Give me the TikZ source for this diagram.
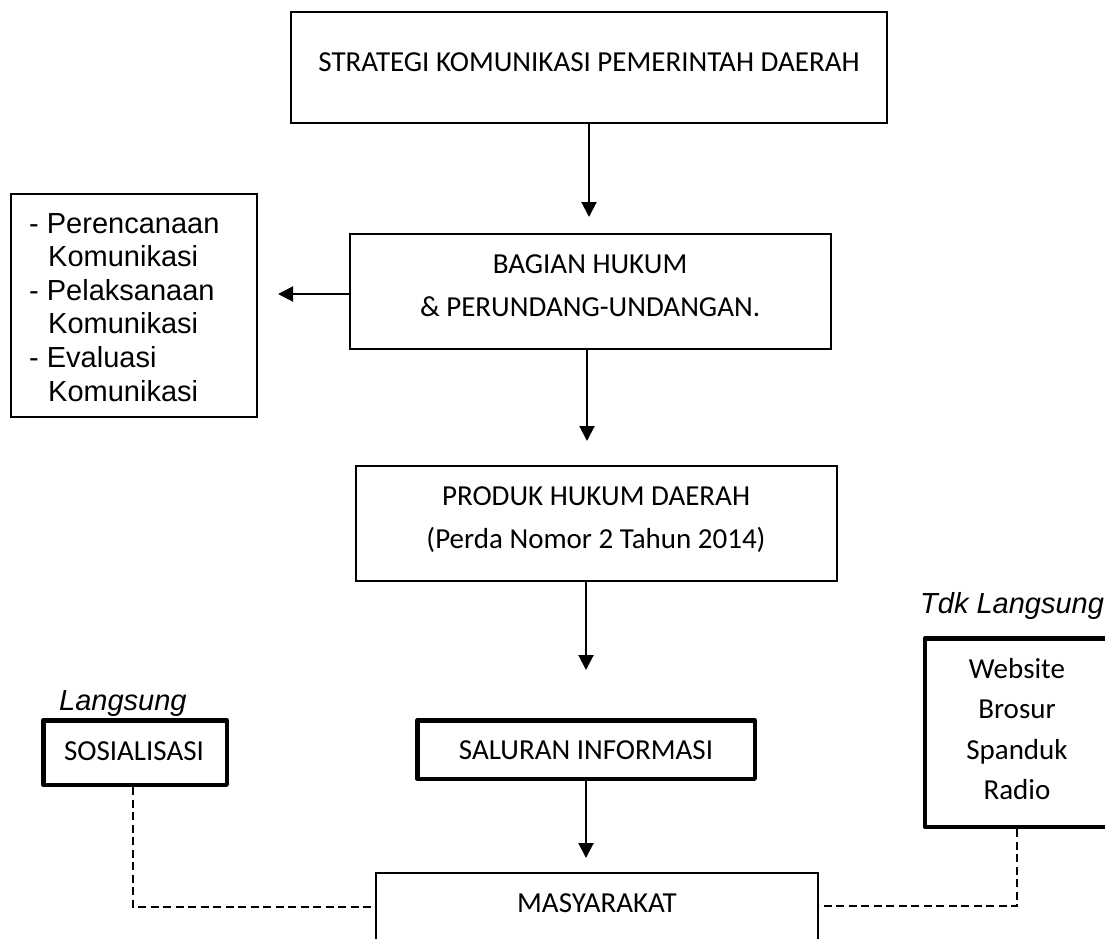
\documentclass[tikz,border=0pt]{standalone}
\usepackage{fontspec}
\newfontfamily\calib{Carlito}
\newfontfamily\arialf{Liberation Sans}
\usetikzlibrary{arrows.meta}
\tikzset{
  boxthin/.style={draw, line width=2pt, rectangle, inner sep=0pt},
  boxthick/.style={draw, line width=4.5pt, line join=round, rectangle, inner sep=0pt},
  ctext/.style={font=\calib\fontsize{29}{35}\selectfont, inner sep=0pt, anchor=base},
  atext/.style={font=\arialf\fontsize{29}{34}\selectfont, inner sep=0pt, anchor=base west},
  itext/.style={font=\arialf\itshape\fontsize{29}{34}\selectfont, inner sep=0pt, anchor=base west},
  arr/.style={-{Triangle[length=15pt,width=15pt]}, line width=2pt},
  dashline/.style={line width=1.5pt, dash pattern=on 8pt off 4.5pt},
}
\begin{document}
\begin{tikzpicture}[x=1pt, y=-1pt]
\useasboundingbox (0,0) rectangle (1105,939);
\clip (0,0) rectangle (1105,939);

% boxes
\node[boxthin, minimum width=596pt, minimum height=111pt] (top) at (589,67.5) {};
\node[ctext] (topt) at (589,72) {STRATEGI KOMUNIKASI PEMERINTAH DAERAH};

\node[boxthin, minimum width=481pt, minimum height=115pt] (hukum) at (590.5,291.5) {};
\node[ctext] (hukum1) at (590,273) {BAGIAN HUKUM};
\node[ctext] (hukum2) at (590,316) {\& PERUNDANG-UNDANGAN.};

\node[boxthin, minimum width=246pt, minimum height=223pt] (list) at (134,305.5) {};
\node[atext] (l1) at (29,233) {- Perencanaan};
\node[atext] (l2) at (48,266.6) {Komunikasi};
\node[atext] (l3) at (29,300.2) {- Pelaksanaan};
\node[atext] (l4) at (48,333.8) {Komunikasi};
\node[atext] (l5) at (29,367.4) {- Evaluasi};
\node[atext] (l6) at (48,401) {Komunikasi};

\node[boxthin, minimum width=481pt, minimum height=115pt] (produk) at (596.5,523.5) {};
\node[ctext] (produk1) at (596,505) {PRODUK HUKUM DAERAH};
\node[ctext] (produk2) at (596,548) {(Perda Nomor 2 Tahun 2014)};

\node[boxthick, minimum width=183.5pt, minimum height=64.5pt] (sos) at (135,752.5) {};
\node[ctext] (sost) at (134,760) {SOSIALISASI};
\node[itext] (lang) at (59,710) {Langsung};

\node[boxthick, minimum width=337.5pt, minimum height=58.5pt] (sal) at (586,749.5) {};
\node[ctext] (salt) at (586,759) {SALURAN INFORMASI};

\node[boxthick, minimum width=184pt, minimum height=188.5pt] (tdk) at (1017,732.5) {};
\node[itext] (tdkl) at (920,613) {Tdk Langsung};
\node[ctext] (w1) at (1017,678) {Website};
\node[ctext] (w2) at (1017,718.5) {Brosur};
\node[ctext] (w3) at (1017,759) {Spanduk};
\node[ctext] (w4) at (1017,799.5) {Radio};

\node[boxthin, minimum width=442pt, minimum height=127pt] (mas) at (597,936.5) {};
\node[ctext] (mast) at (597,912) {MASYARAKAT};

% arrow ends
\coordinate (a1) at (589,217);
\coordinate (a2) at (587,441);
\coordinate (a3) at (586,670);
\coordinate (a4) at (586,858);
\coordinate (a5) at (278,294);
\coordinate (jl) at (133,907);
\coordinate (jr) at (1017,906);

\draw[arr] (top.south) -- (a1);
\draw[arr] (a2 |- hukum.south) -- (a2);
\draw[arr] (a3 |- produk.south) -- (a3);
\draw[arr] (a4 |- sal.south) -- (a4);
\draw[arr] (hukum.west |- a5) -- (a5);

\draw[dashline] (jl |- sos.south) -- (jl) -- (jl -| mas.west);
\draw[dashline] (tdk.south) -- (jr) -- (jr -| mas.east);
\end{tikzpicture}
\end{document}
